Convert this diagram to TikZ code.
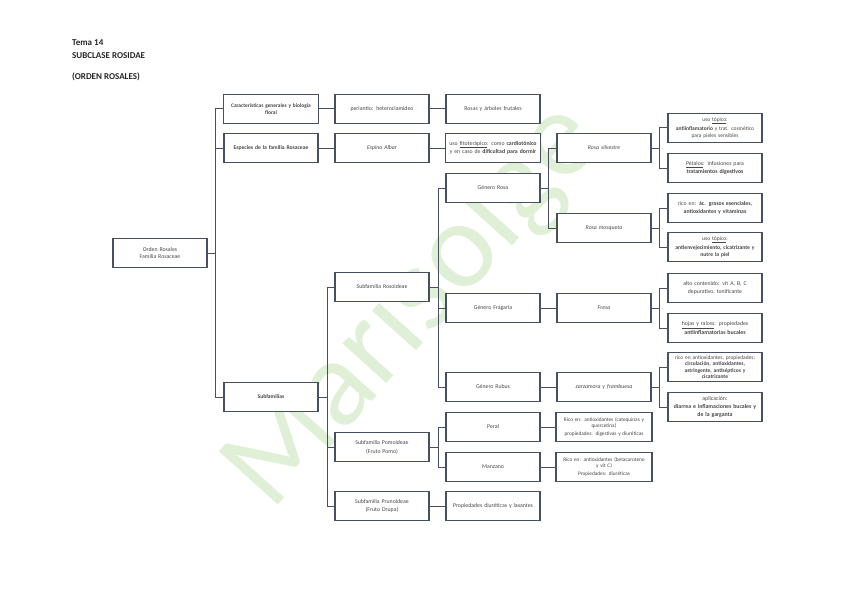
\documentclass[tikz,border=0pt]{standalone}
\usepackage{fontspec}
\setmainfont{Carlito}
\usepackage{tikz}
\usetikzlibrary{positioning,calc}
\usepackage{xcolor}
\definecolor{rsline}{RGB}{70,80,96}
\definecolor{rsmark}{RGB}{224,240,214}
\newcommand{\rsfontl}[2]{\fontsize{#1}{#2}\selectfont\hyphenpenalty=10000\exhyphenpenalty=10000\relax}
\newcommand{\rsfont}[1]{\rsfontl{#1}{7.8}}
\tikzset{
  rsbox/.style={draw=rsline, fill=white, line width=1.2pt, minimum width=94pt, minimum height=28.5pt,
    text width=91pt, align=center, inner sep=1pt, font=\rsfont{5.8}, text=black!72},
  rslink/.style={draw=rsline, line width=1pt},
  rstitle/.style={anchor=west, inner sep=0pt, font=\fontsize{9}{11}\selectfont\bfseries, text=black!85},
}

\begin{document}
\begin{tikzpicture}[x=1pt, y=-1pt]
  \useasboundingbox (0,0) rectangle (848,599);

  % watermark
  \node[rotate=48, text=rsmark, font=\fontsize{124}{124}\selectfont, inner sep=0pt] (mark) at (414,306) {Marisolge};

  \node[rstitle] (t1) at (72,43) {Tema 14};
  \node[rstitle] (t2) at (72,56) {SUBCLASE ROSIDAE};
  \node[rstitle] (t3) at (72,77) {(ORDEN ROSALES)};

  \node[rsbox] (root) at (160,253) {Orden Rosales\\Familia Rosaceae};

  \node[rsbox, text width=93pt, font=\rsfontl{5.4}{6.4}\bfseries] (carac) at (271,109) {Características generales y biología\\floral};
  \node[rsbox, font=\rsfont{5.6}\bfseries] (espec) at (271,148) {Especies de la familia Rosaceae};
  \node[rsbox, font=\rsfont{5.6}\bfseries] (subf) at (271,397) {Subfamilias};

  \node[rsbox] (peri) at (382,109) {periantio: heteroclamideo};
  \node[rsbox] (espino) at (382,148) {\textit{Espino Albar}};
  \node[rsbox] (rosoid) at (382,287) {Subfamilia Rosoideae};
  \node[rsbox] (pomo) at (382,447) {Subfamilia Pomoideae\\[1pt](Fruto Pomo)};
  \node[rsbox] (pruno) at (382,506) {Subfamilia Prunoideae\\[1pt](Fruto Drupa)};

  \node[rsbox] (rosas) at (493,109) {Rosas y árboles frutales};
  \node[rsbox, text width=93pt] (fito) at (493,148) {uso \underline{fitoterápico}: como \textbf{cardiotónico}\\[1pt]y en caso de \textbf{dificultad para dormir}};
  \node[rsbox] (grosa) at (493,188) {Género Rosa};
  \node[rsbox] (fraga) at (493,308) {Género Fragaria};
  \node[rsbox] (rubus) at (493,387) {Género Rubus};
  \node[rsbox] (peral) at (493,427) {Peral};
  \node[rsbox] (manz) at (493,467) {Manzano};
  \node[rsbox] (propd) at (493,506) {Propiedades diuréticas y laxantes};

  \node[rsbox] (silv) at (604,148) {\textit{Rosa silvestre}};
  \node[rsbox] (mosq) at (604,228) {\textit{Rosa mosqueta}};
  \node[rsbox] (fresa) at (604,308) {\textit{Fresa}};
  \node[rsbox] (zarza) at (604,387) {\textit{zarzamora y frambuesa}};
  \node[rsbox, text width=94pt, font=\rsfontl{5.3}{6.4}] (ricop) at (604,427) {Rico en: antioxidantes (catequinas y\\quercetina)\\[1.5pt]propiedades: digestivas y diuréticas};
  \node[rsbox, text width=94pt, font=\rsfontl{5.3}{6.4}] (ricom) at (604,467) {Rico en: antioxidantes (betacaroteno\\y vit C)\\[1.5pt]Propiedades: diuréticas};

  \node[rsbox, font=\rsfontl{5.5}{7}] (silv1) at (715,128) {uso \underline{tópico}:\\[2.5pt]\textbf{antiinflamatorio} y trat. cosmético\\para pieles sensibles};
  \node[rsbox] (silv2) at (715,168) {\underline{Pétalos}: infusiones para\\\textbf{tratamientos digestivos}};
  \node[rsbox] (mosq1) at (715,208) {rico en: \textbf{ác. grasos esenciales,}\\\textbf{antioxidantes y vitaminas}};
  \node[rsbox, font=\rsfontl{5.6}{7}] (mosq2) at (715,247) {uso \underline{tópico}:\\[2.5pt]\textbf{antienvejecimiento, cicatrizante y}\\\textbf{nutre la piel}};
  \node[rsbox] (fresa1) at (715,288) {alto contenido: vit A, B, C\\[1pt]depurativo, tonificante};
  \node[rsbox] (fresa2) at (715,328) {\underline{hojas y raíces}: propiedades\\[1pt]\textbf{antiinflamatorias bucales}};
  \node[rsbox, font=\rsfontl{5.5}{6.4}] (zarza1) at (715,367) {rico en antioxidantes, propiedades:\\\textbf{circulación, antioxidantes,}\\\textbf{astringente, antisépticos y}\\\textbf{cicatrizante}};
  \node[rsbox] (zarza2) at (715,407) {aplicación:\\\textbf{diarrea e inflamaciones bucales y}\\\textbf{de la garganta}};

  % tree connectors
  \foreach \c in {carac,espec,subf}
    \draw[rslink] (root.east) -- ++(8,0) |- (\c.west);
  \foreach \c in {rosoid,pomo,pruno}
    \draw[rslink] (subf.east) -- ++(9,0) |- (\c.west);
  \foreach \c in {grosa,fraga,rubus}
    \draw[rslink] (rosoid.east) -- ++(9,0) |- (\c.west);
  \foreach \c in {peral,manz}
    \draw[rslink] (pomo.east) -- ++(9,0) |- (\c.west);
  \foreach \c in {silv,mosq}
    \draw[rslink] (grosa.east) -- ++(8,0) |- (\c.west);
  \foreach \p/\a/\b in {silv/silv1/silv2, mosq/mosq1/mosq2, fresa/fresa1/fresa2, zarza/zarza1/zarza2} {
    \draw[rslink] (\p.east) -- ++(8,0) |- (\a.west);
    \draw[rslink] (\p.east) -- ++(8,0) |- (\b.west);
  }

  \draw[rslink] (carac) -- (peri);
  \draw[rslink] (peri) -- (rosas);
  \draw[rslink] (espec) -- (espino);
  \draw[rslink] (espino) -- (fito);
  \draw[rslink] (fraga) -- (fresa);
  \draw[rslink] (rubus) -- (zarza);
  \draw[rslink] (peral) -- (ricop);
  \draw[rslink] (manz) -- (ricom);
  \draw[rslink] (pruno) -- (propd);
\end{tikzpicture}
\end{document}
